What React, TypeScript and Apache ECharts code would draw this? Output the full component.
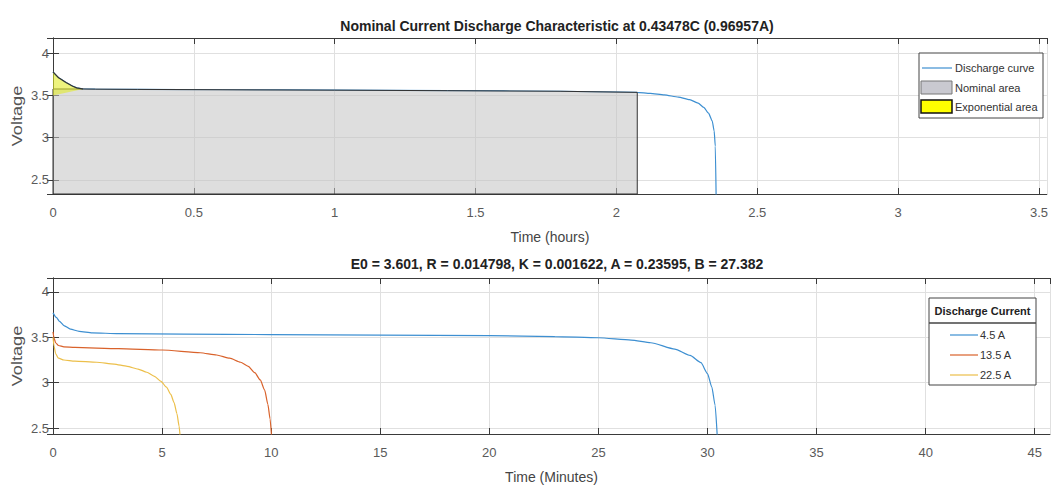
import React, { useEffect, useRef } from "react";
import * as echarts from "echarts";

const topTitle = "Nominal Current Discharge Characteristic at 0.43478C (0.96957A)";
const bottomTitle = "E0 = 3.601, R = 0.014798, K = 0.001622, A = 0.23595, B = 27.382";
const topXName = "Time (hours)";
const bottomXName = "Time (Minutes)";
const yName = "Voltage";

// Top panel: discharge curve (hours, volts)
const dischargeT = [0, 0.02, 0.048, 0.07, 0.084, 0.107, 0.15, 0.3, 0.6, 1.0, 1.4, 1.8, 2.074, 2.12, 2.17, 2.22, 2.26, 2.29, 2.31, 2.327, 2.34, 2.347, 2.351, 2.354];
const dischargeV = [3.78, 3.71, 3.65, 3.61, 3.59, 3.577, 3.575, 3.572, 3.568, 3.563, 3.557, 3.55, 3.537, 3.525, 3.507, 3.48, 3.45, 3.41, 3.36, 3.29, 3.2, 3.08, 2.9, 2.3];
// Nominal area outline (top edge)
const nominalT = [0, 0.107, 0.15, 0.3, 0.6, 1.0, 1.4, 1.8, 2.074];
const nominalV = [3.577, 3.577, 3.575, 3.572, 3.568, 3.563, 3.557, 3.55, 3.537];
// Exponential area outline
const expT = [0, 0.02, 0.048, 0.07, 0.084, 0.107, 0];
const expV = [3.78, 3.71, 3.65, 3.61, 3.59, 3.577, 3.5];

const topLegend = ["Discharge curve", "Nominal area", "Exponential area"];

// Bottom panel: discharge at three currents (minutes, volts)
const currents = ["4.5 A", "13.5 A", "22.5 A"];
const t45 = [0, 0.15, 0.3, 0.5, 0.8, 1.2, 1.8, 3, 6, 10, 15, 20, 23, 25, 26.5, 27.4, 28.5, 29.2, 29.7, 30.0, 30.2, 30.35, 30.45];
const v45 = [3.77, 3.72, 3.675, 3.63, 3.59, 3.565, 3.55, 3.54, 3.535, 3.53, 3.525, 3.518, 3.508, 3.495, 3.47, 3.44, 3.37, 3.3, 3.22, 3.1, 2.95, 2.75, 2.4];
const t135 = [0, 0.05, 0.12, 0.25, 0.5, 1, 3, 5, 6.75, 7.5, 8.1, 8.6, 8.95, 9.25, 9.5, 9.7, 9.85, 9.95, 10.02];
const v135 = [3.56, 3.49, 3.44, 3.41, 3.395, 3.388, 3.375, 3.36, 3.33, 3.305, 3.27, 3.225, 3.18, 3.11, 3.03, 2.92, 2.76, 2.6, 2.4];
const t225 = [0, 0.05, 0.12, 0.25, 0.5, 1, 2, 2.8, 3.4, 3.9, 4.3, 4.65, 4.95, 5.2, 5.4, 5.55, 5.68, 5.78, 5.83];
const v225 = [3.5, 3.4, 3.32, 3.27, 3.25, 3.238, 3.225, 3.205, 3.18, 3.15, 3.115, 3.07, 3.015, 2.95, 2.87, 2.78, 2.66, 2.52, 2.4];

const topX = { min: 0, max: 3.528, interval: 0.5 };
const topY = { min: 2.333, max: 4.181 };
const botX = { min: 0, max: 45.7, interval: 5 };
const botY = { min: 2.434, max: 4.154 };

const COLORS = ["#3d8fd1", "#d9622b", "#ecbf4a"];
const FONT = "Liberation Sans, Arial, sans-serif";
const AXIS_COLOR = "#3a3a3a";
const LABEL_COLOR = "#5a5a5a";

function zip(ts: number[], vs: number[]) {
  return ts.map((t, i) => [t, vs[i]]);
}

export default function App() {
  const ref = useRef<HTMLDivElement>(null);
  useEffect(() => {
    if (!ref.current) return;
    const chart = echarts.init(ref.current, null, { renderer: "svg" });

    const grids = [
      { left: 53, right: 1, top: 38, height: 156 },
      { left: 53, right: 1, top: 278, height: 156 },
    ];

    const baseX = (g: number, r: any, name: string, pos: "bottom" | "top") => ({
      type: "value",
      gridIndex: g,
      position: pos,
      min: r.min,
      max: r.max,
      interval: r.interval,
      name: pos === "bottom" ? name : undefined,
      nameLocation: "middle",
      nameGap: 36,
      nameTextStyle: { fontFamily: FONT, fontSize: 14, color: "#444" },
      axisLine: { show: true, lineStyle: { color: AXIS_COLOR, width: 1 } },
      axisTick: { show: true, inside: true, length: 6, lineStyle: { color: AXIS_COLOR } },
      axisLabel: {
        show: pos === "bottom",
        showMaxLabel: false,
        margin: 12,
        fontFamily: FONT,
        fontSize: 13,
        color: LABEL_COLOR,
      },
      splitLine: { show: pos === "bottom", lineStyle: { color: "#e0e0e0", width: 1 } },
    });
    const baseY = (g: number, r: any, pos: "left" | "right") => ({
      type: "value",
      gridIndex: g,
      position: pos,
      min: r.min,
      max: r.max,
      splitNumber: 4,
      axisLine: { show: true, lineStyle: { color: AXIS_COLOR, width: 1 } },
      axisTick: { show: true, inside: true, length: 6, lineStyle: { color: AXIS_COLOR } },
      axisLabel: {
        show: pos === "left",
        showMinLabel: false,
        showMaxLabel: false,
        margin: 4,
        fontFamily: FONT,
        fontSize: 13,
        color: LABEL_COLOR,
      },
      splitLine: { show: pos === "left", lineStyle: { color: "#e0e0e0", width: 1 } },
    });

    const polygonItem = (
      ts: number[],
      vs: number[],
      fill: string,
      stroke: string,
      strokePts: "all" | number
    ) => (_p: any, api: any) => {
      const pts = ts.map((t, i) => api.coord([t, vs[i]]));
      const children: any[] = [
        {
          type: "polygon",
          shape: { points: pts },
          style: strokePts === "all" ? { fill, stroke, lineWidth: 1 } : { fill, stroke: "none" },
        },
      ];
      if (strokePts !== "all") {
        children.push({
          type: "polyline",
          shape: { points: pts.slice(0, strokePts) },
          style: { fill: "none", stroke, lineWidth: 1.2 },
        });
      }
      return { type: "group", children };
    };

    const nomPolyT = [nominalT[0], ...nominalT, nominalT[nominalT.length - 1]];
    const nomPolyV = [topY.min, ...nominalV, topY.min];

    const line = (name: string, data: number[][], color: string, xi: number, yi: number) => ({
      name,
      type: "line",
      xAxisIndex: xi,
      yAxisIndex: yi,
      data,
      showSymbol: false,
      smooth: 0.2,
      smoothMonotone: "x",
      clip: true,
      lineStyle: { color, width: 1.2 },
      z: 3,
    });

    const legendTop = [
      { type: "rect", shape: { x: 919, y: 53, width: 124, height: 65 }, style: { fill: "#fff", stroke: "#444", lineWidth: 1 }, z: 100 },
      { type: "line", shape: { x1: 922, y1: 68, x2: 952, y2: 68 }, style: { stroke: COLORS[0], lineWidth: 1.2 }, z: 101 },
      { type: "rect", shape: { x: 921, y: 81, width: 31, height: 13 }, style: { fill: "#c9c9d0", stroke: "#777", lineWidth: 1 }, z: 101 },
      { type: "rect", shape: { x: 921, y: 100, width: 31, height: 13 }, style: { fill: "#ffff00", stroke: "#111", lineWidth: 1.5 }, z: 101 },
      ...topLegend.map((t, i) => ({
        type: "text",
        x: 955,
        y: 68 + i * 19.5,
        z: 101,
        style: { text: t, font: `11px ${FONT}`, fill: "#333", verticalAlign: "middle", align: "left" },
      })),
    ];
    const legendBottom = [
      { type: "rect", shape: { x: 929, y: 298, width: 107, height: 87 }, style: { fill: "#fff", stroke: "#444", lineWidth: 1 }, z: 100 },
      {
        type: "text",
        x: 982.5,
        y: 311,
        z: 101,
        style: { text: "Discharge Current", font: `bold 11px ${FONT}`, fill: "#222", align: "center", verticalAlign: "middle" },
      },
      { type: "line", shape: { x1: 929, y1: 323, x2: 1036, y2: 323 }, style: { stroke: "#444", lineWidth: 1.5 }, z: 101 },
      ...currents.map((_c, i) => ({
        type: "line",
        shape: { x1: 950, y1: 335 + i * 20, x2: 978, y2: 335 + i * 20 },
        style: { stroke: COLORS[i], lineWidth: 1.2 },
        z: 101,
      })),
      ...currents.map((c, i) => ({
        type: "text",
        x: 980,
        y: 335 + i * 20,
        z: 101,
        style: { text: c, font: `11px ${FONT}`, fill: "#333", align: "left", verticalAlign: "middle" },
      })),
    ];
    const yLabels = [116, 356].map((cy) => ({
      type: "text",
      x: 17,
      y: cy,
      rotation: Math.PI / 2,
      scaleX: 1.3,
      style: { text: yName, font: `14px ${FONT}`, fill: "#555", align: "center", verticalAlign: "middle" },
    }));

    chart.setOption({
      animation: false,
      backgroundColor: "#fff",
      title: [
        {
          text: topTitle,
          left: 552,
          top: 14,
          textAlign: "center",
          textStyle: { fontFamily: FONT, fontSize: 14, fontWeight: "bold", color: "#222" },
        },
        {
          text: bottomTitle,
          left: 552,
          top: 252,
          textAlign: "center",
          textStyle: { fontFamily: FONT, fontSize: 14, fontWeight: "bold", color: "#222" },
        },
      ],
      grid: grids,
      xAxis: [
        baseX(0, topX, topXName, "bottom"),
        baseX(0, topX, topXName, "top"),
        baseX(1, botX, bottomXName, "bottom"),
        baseX(1, botX, bottomXName, "top"),
      ],
      yAxis: [baseY(0, topY, "left"), baseY(0, topY, "right"), baseY(1, botY, "left"), baseY(1, botY, "right")],
      series: [
        line(topLegend[0], zip(dischargeT, dischargeV), COLORS[0], 0, 0),
        {
          name: topLegend[1],
          type: "custom",
          coordinateSystem: "cartesian2d",
          xAxisIndex: 0,
          yAxisIndex: 0,
          data: [[0, topY.min]],
          renderItem: polygonItem(nomPolyT, nomPolyV, "rgba(195,195,195,0.55)", "#333", "all"),
          z: 4,
          silent: true,
        },
        {
          name: topLegend[2],
          type: "custom",
          coordinateSystem: "cartesian2d",
          xAxisIndex: 0,
          yAxisIndex: 0,
          data: [[0, topY.min]],
          renderItem: polygonItem(expT, expV, "rgba(225,235,40,0.6)", "#333", expT.length - 1),
          z: 5,
          silent: true,
        },
        line(currents[0], zip(t45, v45), COLORS[0], 2, 2),
        line(currents[1], zip(t135, v135), COLORS[1], 2, 2),
        line(currents[2], zip(t225, v225), COLORS[2], 2, 2),
      ],
      graphic: [...legendTop, ...legendBottom, ...yLabels],
    });
    return () => chart.dispose();
  }, []);
  return <div ref={ref} style={{ width: 1051, height: 486, position: "absolute", left: 0, top: 0 }} />;
}
